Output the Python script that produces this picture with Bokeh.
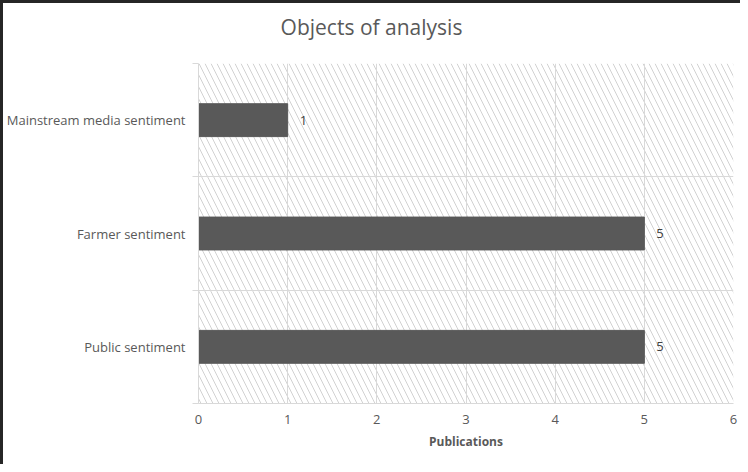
from bokeh.plotting import figure
from bokeh.layouts import column
from bokeh.models import Range1d, FixedTicker, BoxAnnotation, ColumnDataSource, Div
from bokeh.core.properties import value
from bokeh.embed import file_html
from bokeh.resources import INLINE

title_text = "Objects of analysis"
categories = ["Mainstream media sentiment", "Farmer sentiment", "Public sentiment"]
publications = [1, 5, 5]
x_ticks = [0, 1, 2, 3, 4, 5, 6]

n = len(categories)
ypos = [n - i - 0.5 for i in range(n)]

FONT = "Open Sans"
TXT = "#595959"
GRID = "#d9d9d9"

W, H, TH = 737, 461, 48

title = Div(text=title_text, width=W, height=TH, margin=0,
            styles={"text-align": "center", "font-family": FONT, "font-size": "21px",
                    "line-height": f"{TH}px", "color": TXT, "background": "white",
                    "width": f"{W}px"})

p = figure(width=W, height=H - TH, output_backend="svg", toolbar_location=None,
           x_range=Range1d(0, 6), y_range=Range1d(0, n), margin=0,
           min_border_left=194, min_border_right=7, min_border_top=60 - TH, min_border_bottom=61)
p.outline_line_color = None
p.background_fill_color = "white"
p.border_fill_color = "white"

hatch = BoxAnnotation(fill_color=None, line_color=None, hatch_pattern="\\",
                      hatch_color="#d2d2d2", hatch_alpha=1.0, hatch_scale=12,
                      hatch_weight=1, level="image")
p.add_layout(hatch)

src = ColumnDataSource(dict(y=ypos, v=publications, lbl=[str(v) for v in publications]))
p.hbar(y="y", right="v", left=0, height=0.29, source=src,
       fill_color="#595959", line_color="#595959")
p.text(x="v", y="y", text="lbl", source=src, x_offset=12, text_baseline="middle",
       text_align="left", text_font=value(FONT), text_font_size="13px", text_color="#404040")

# x axis
p.xaxis.ticker = FixedTicker(ticks=x_ticks)
p.xaxis.axis_label = "Publications"
p.xaxis.axis_label_text_font = FONT
p.xaxis.axis_label_text_font_style = "bold"
p.xaxis.axis_label_text_font_size = "12px"
p.xaxis.axis_label_text_color = TXT
p.xaxis.axis_label_standoff = 6
p.xaxis.major_label_text_font = FONT
p.xaxis.major_label_text_font_size = "13px"
p.xaxis.major_label_text_color = TXT
p.xaxis.major_label_standoff = 11
p.xaxis.major_tick_out = 0
p.xaxis.major_tick_in = 0
p.xaxis.major_tick_line_color = None
p.xaxis.minor_tick_line_color = None
p.xaxis.axis_line_color = GRID

# y axis
p.yaxis.ticker = FixedTicker(ticks=ypos, minor_ticks=list(range(n + 1)))
p.yaxis.major_label_overrides = {y: c for y, c in zip(ypos, categories)}
p.yaxis.major_label_text_font = FONT
p.yaxis.major_label_text_font_size = "13px"
p.yaxis.major_label_text_color = TXT
p.yaxis.major_label_standoff = 7
p.yaxis.major_tick_line_color = None
p.yaxis.minor_tick_line_color = GRID
p.yaxis.minor_tick_out = 6
p.yaxis.minor_tick_in = 0
p.yaxis.axis_line_color = GRID

p.xgrid.ticker = FixedTicker(ticks=x_ticks)
p.xgrid.grid_line_color = GRID
p.ygrid.ticker = FixedTicker(ticks=list(range(1, n + 1)))
p.ygrid.grid_line_color = GRID

layout = column(title, p, spacing=0, margin=0,
                styles={"border-top": "3px solid #262626", "border-left": "3px solid #262626",
                        "background": "white"})

open("out.html", "w").write(file_html(layout, INLINE))
